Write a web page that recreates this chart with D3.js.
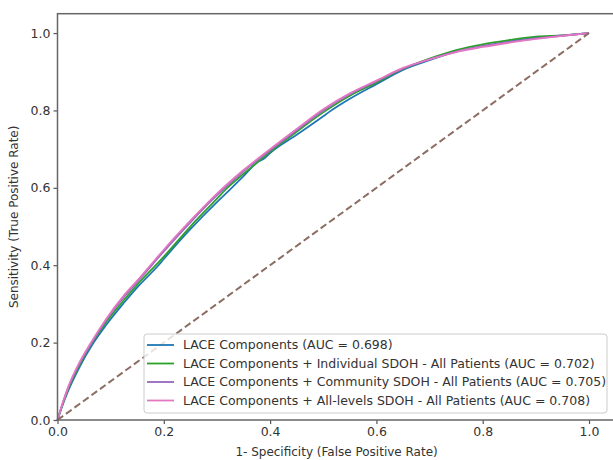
<!DOCTYPE html>
<html>
<head>
<meta charset="utf-8">
<script src="https://cdn.jsdelivr.net/npm/d3@7"></script>
<style>
  body { margin: 0; background: #fff; }
  svg { display: block; font-family: "DejaVu Sans", sans-serif; }
</style>
</head>
<body>
<svg></svg>
<script>
//Canvas settings
var width = 613;
var height = 460;

//ROC points (false positive rate / true positive rate)
var fprLace = [0, 0.01, 0.02, 0.04, 0.068, 0.09, 0.125, 0.15, 0.19, 0.2, 0.25, 0.3, 0.322, 0.35, 0.375, 0.39, 0.4, 0.45, 0.5, 0.51, 0.55, 0.6, 0.65, 0.7, 0.75, 0.8, 0.85, 0.9, 0.95, 1];
var tprLace = [0, 0.04, 0.075, 0.133, 0.2, 0.243, 0.303, 0.343, 0.4, 0.416, 0.493, 0.563, 0.592, 0.63, 0.665, 0.677, 0.69, 0.737, 0.785, 0.795, 0.83, 0.868, 0.905, 0.93, 0.952, 0.966, 0.978, 0.988, 0.994, 1];

var fprIndiv = [0, 0.01, 0.02, 0.04, 0.065, 0.09, 0.125, 0.15, 0.185, 0.2, 0.25, 0.3, 0.315, 0.35, 0.4, 0.45, 0.5, 0.55, 0.6, 0.65, 0.7, 0.75, 0.8, 0.85, 0.9, 0.95, 1];
var tprIndiv = [0, 0.042, 0.08, 0.138, 0.2, 0.25, 0.31, 0.35, 0.4, 0.422, 0.5, 0.572, 0.594, 0.636, 0.693, 0.745, 0.795, 0.838, 0.872, 0.907, 0.934, 0.956, 0.971, 0.982, 0.991, 0.994, 1];

var fprComm = [0, 0.01, 0.02, 0.04, 0.063, 0.09, 0.125, 0.15, 0.178, 0.2, 0.25, 0.3, 0.35, 0.4, 0.45, 0.5, 0.55, 0.6, 0.65, 0.7, 0.75, 0.8, 0.85, 0.9, 0.95, 1];
var tprComm = [0, 0.044, 0.083, 0.142, 0.197, 0.255, 0.318, 0.357, 0.401, 0.436, 0.511, 0.581, 0.643, 0.697, 0.749, 0.8, 0.842, 0.875, 0.908, 0.932, 0.952, 0.966, 0.977, 0.986, 0.993, 1];

var fprAll = [0, 0.01, 0.02, 0.04, 0.063, 0.09, 0.125, 0.15, 0.178, 0.2, 0.25, 0.3, 0.35, 0.4, 0.45, 0.5, 0.55, 0.6, 0.65, 0.7, 0.75, 0.8, 0.85, 0.9, 0.95, 1];
var tprAll = [0, 0.045, 0.085, 0.145, 0.2, 0.258, 0.322, 0.36, 0.405, 0.44, 0.515, 0.585, 0.646, 0.7, 0.752, 0.803, 0.844, 0.877, 0.91, 0.932, 0.951, 0.964, 0.975, 0.985, 0.993, 1];

var seriesNames = [
	"LACE Components (AUC = 0.698)",
	"LACE Components + Individual SDOH - All Patients (AUC = 0.702)",
	"LACE Components + Community SDOH - All Patients (AUC = 0.705)",
	"LACE Components + All-levels SDOH - All Patients (AUC = 0.708)"
];
var seriesColors = ["#1f77b4", "#2ca02c", "#9467bd", "#e377c2"];
var seriesFpr = [fprLace, fprIndiv, fprComm, fprAll];
var seriesTpr = [tprLace, tprIndiv, tprComm, tprAll];

var tickValues = [0, 0.2, 0.4, 0.6, 0.8, 1.0];
var chanceLine = [0, 1];

window.onload = function () {
	var svg = d3.select("svg")
		.attr("width", width)
		.attr("height", height);

	var x = d3.scaleLinear().domain([0, 1.05]).range([57.5, 615.6]);
	var y = d3.scaleLinear().domain([0, 1.05]).range([420, 13.7]);

	//axes
	var xAxis = svg.append("g")
		.attr("transform", "translate(0," + y(0) + ")")
		.call(d3.axisBottom(x).tickValues(tickValues).tickFormat(d3.format(".1f")).tickSize(4).tickPadding(3));
	var yAxis = svg.append("g")
		.attr("transform", "translate(" + x(0) + ",0)")
		.call(d3.axisLeft(y).tickValues(tickValues).tickFormat(d3.format(".1f")).tickSize(4).tickPadding(3));

	[xAxis, yAxis].forEach(function (a) {
		a.select(".domain").remove();
		a.selectAll(".tick line").attr("stroke", "#555").attr("stroke-width", 1.2);
		a.selectAll(".tick text").attr("fill", "#333").style("font-size", "12.5px")
			.style("font-family", "DejaVu Sans, sans-serif");
	});

	var line = d3.line()
		.curve(d3.curveMonotoneX)
		.x(function (d) { return x(d[0]); })
		.y(function (d) { return y(d[1]); });

	//curves
	for (var i = 0; i < seriesNames.length; ++i) {
		var pts = d3.zip(seriesFpr[i], seriesTpr[i]);
		svg.append("path")
			.datum(pts)
			.attr("fill", "none")
			.attr("stroke", seriesColors[i])
			.attr("stroke-width", 1.8)
			.attr("stroke-linejoin", "round")
			.attr("d", line);
	}

	//chance diagonal
	svg.append("path")
		.datum(d3.zip(chanceLine, chanceLine))
		.attr("fill", "none")
		.attr("stroke", "#8c6d62")
		.attr("stroke-width", 2)
		.attr("stroke-dasharray", "7,3.5")
		.attr("d", line);

	//frame
	svg.append("rect")
		.attr("x", x(0))
		.attr("y", y(1.05))
		.attr("width", x(1.05) - x(0))
		.attr("height", y(0) - y(1.05))
		.attr("fill", "none")
		.attr("stroke", "#666")
		.attr("stroke-width", 1.5);

	//axis labels
	svg.append("text")
		.attr("x", x(0.525))
		.attr("y", 456)
		.attr("text-anchor", "middle")
		.attr("fill", "#333")
		.style("font-size", "12px")
		.text("1- Specificity (False Positive Rate)");

	svg.append("text")
		.attr("transform", "translate(18," + y(0.525) + ") rotate(-90)")
		.attr("text-anchor", "middle")
		.attr("fill", "#333")
		.style("font-size", "12px")
		.text("Sensitivity (True Positive Rate)");

	//legend
	var legend = svg.append("g");
	legend.append("rect")
		.attr("x", 144)
		.attr("y", 334)
		.attr("width", 463)
		.attr("height", 79)
		.attr("rx", 3)
		.attr("fill", "#fff")
		.attr("fill-opacity", 0.8)
		.attr("stroke", "#ccc");

	var rows = legend.selectAll("g.row")
		.data(seriesNames)
		.enter().append("g")
		.attr("class", "row")
		.attr("transform", function (d, i) { return "translate(0," + (345 + i * 18.5) + ")"; });

	rows.append("line")
		.attr("x1", 147).attr("x2", 174)
		.attr("y1", 0).attr("y2", 0)
		.attr("stroke", function (d, i) { return seriesColors[i]; })
		.attr("stroke-width", 1.8);

	rows.append("text")
		.attr("x", 183)
		.attr("y", 0)
		.attr("dy", "0.35em")
		.attr("fill", "#333")
		.style("font-size", "12.5px")
		.text(function (d) { return d; });
}
</script>
</body>
</html>
